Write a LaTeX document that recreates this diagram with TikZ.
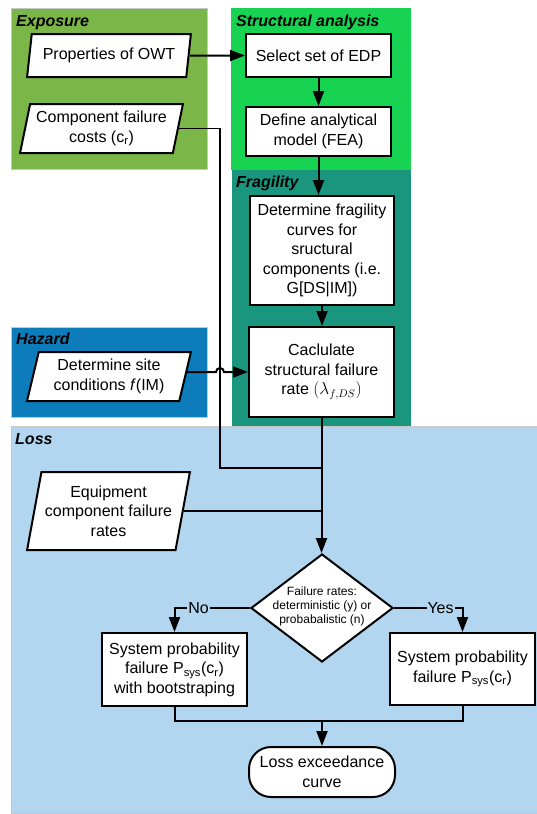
\documentclass[tikz,border=0pt]{standalone}
\usepackage{fontspec}
\setmainfont{Liberation Sans}
\usetikzlibrary{shapes.geometric,arrows.meta,calc}
\definecolor{cexp}{RGB}{122,182,72}
\definecolor{cstr}{RGB}{24,210,82}
\definecolor{cfra}{RGB}{25,150,125}
\definecolor{chaz}{RGB}{12,124,186}
\definecolor{closs}{RGB}{178,214,239}
\newcommand{\fsmain}{\fontsize{16}{19.5}\selectfont}
\newcommand{\fssmall}{\fontsize{12}{14}\selectfont}
\tikzset{
  region/.style={draw=black!22, line width=0.8pt},
  regtitle/.style={anchor=base west, inner sep=0pt, font=\fsmain\bfseries\itshape},
  procbox/.style={draw, line width=2pt, fill=white, align=center, font=\fsmain, inner sep=0pt},
  iobox/.style={trapezium, trapezium left angle=75, trapezium right angle=105, trapezium stretches=true,
    draw, line width=2pt, fill=white, align=center, font=\fsmain, inner sep=0pt},
  arr/.style={line width=2pt, -{Triangle[length=15pt,width=11pt]}},
  conn/.style={line width=2pt},
  thinconn/.style={line width=1.4pt},
  yn/.style={fill=closs, inner sep=1pt, font=\fsmain}
}
\begin{document}
\begin{tikzpicture}[x=1pt,y=-1pt]
\useasboundingbox (0,0) rectangle (537,814);
% regions
\fill[white] (0,0) rectangle (537,814);
\draw[region, fill=cexp] (11,8) rectangle (207,169);
\draw[region, draw=none, fill=cstr] (231,8) rectangle (411,170);
\draw[region, draw=none, fill=cfra] (232,170) rectangle (411,426);
\draw[region, fill=chaz] (11,327) rectangle (207,417);
\draw[region, fill=closs] (11,426) rectangle (538,813);
\node[regtitle] (texp) at (16,26) {Exposure};
\node[regtitle] (tstr) at (236,26) {Structural analysis};
\node[regtitle] (tfra) at (236,187) {Fragility};
\node[regtitle] (thaz) at (16,344) {Hazard};
\node[regtitle] (tloss) at (15,444) {Loss};
% nodes
\node[iobox, minimum width=164pt, minimum height=43pt] (props) at (109,55.5) {Properties of OWT};
\node[iobox, minimum width=163pt, minimum height=49pt] (costs) at (101.5,128.5) {Component failure\\costs (c\textsubscript{r})};
\node[iobox, minimum width=164pt, minimum height=49pt] (haz) at (109,376.5) {Determine site\\conditions \textit{f}(IM)};
\node[iobox, minimum width=163pt, minimum height=78pt] (equip) at (108.5,511) {Equipment\\component failure\\rates};
\node[procbox, minimum width=145pt, minimum height=43pt] (sel) at (318.5,55.5) {Select set of EDP};
\node[procbox, minimum width=145pt, minimum height=49pt] (def) at (318.5,131.5) {Define analytical\\model (FEA)};
\node[procbox, minimum width=144pt, minimum height=109pt] (frag) at (322,250.5) {Determine fragility\\curves for\\sructural\\components (i.e.\\G[DS|IM])};
\node[procbox, minimum width=145pt, minimum height=90pt] (calc) at (321.5,372) {Caclulate\\structural failure\\rate $(\lambda_{f,DS})$};
\node[diamond, draw, line width=2pt, fill=white, minimum width=142pt, minimum height=108pt, inner sep=0pt] (dia) at (322,608) {};
\node[align=center, font=\fssmall, inner sep=0pt] (diatxt) at (322,606) {Failure rates:\\deterministic (y) or\\probabalistic (n)};
\node[procbox, minimum width=145pt, minimum height=73pt] (sysb) at (174.5,669.5) {System probability\\failure P\textsubscript{sys}(c\textsubscript{r})\\with bootstraping};
\node[procbox, minimum width=145pt, minimum height=72pt] (sys) at (462.5,669) {System probability\\failure P\textsubscript{sys}(c\textsubscript{r})};
\node[procbox, rounded corners=22pt, minimum width=146pt, minimum height=50pt] (term) at (322,772) {Loss exceedance\\curve};
% helper coordinates
\coordinate (jv) at (220,468);
\coordinate (hop) at (220,372);
\coordinate (mg) at (322,721);
% connectors
\draw[arr] (props.east) -- (sel.west);
\draw[arr] (sel.south) -- (def.north);
\draw[arr] (def.south) -- (def.south |- frag.north);
\draw[arr] (frag.south) -- (frag.south |- calc.north);
\draw[thinconn] (costs.east) -| (jv) -- (jv -| calc.south);
\draw[arr] (haz.east |- calc.west) -- ($(hop)+(-4,0)$) arc[start angle=180, end angle=360, radius=4] -- (calc.west);
\draw[arr] (calc.south) -- (calc.south |- dia.north);
\draw[thinconn] (equip.east) -- (equip.east -| dia.north);
\draw[arr] (dia.west) -| node[yn, pos=0.34] (lno) {No} (sysb.north);
\draw[arr] (dia.east) -| node[yn, pos=0.34] (lyes) {Yes} (sys.north);
\draw[conn] (sysb.south) |- (mg) -| (sys.south);
\draw[arr] (mg) -- (term.north);
\end{tikzpicture}
\end{document}
